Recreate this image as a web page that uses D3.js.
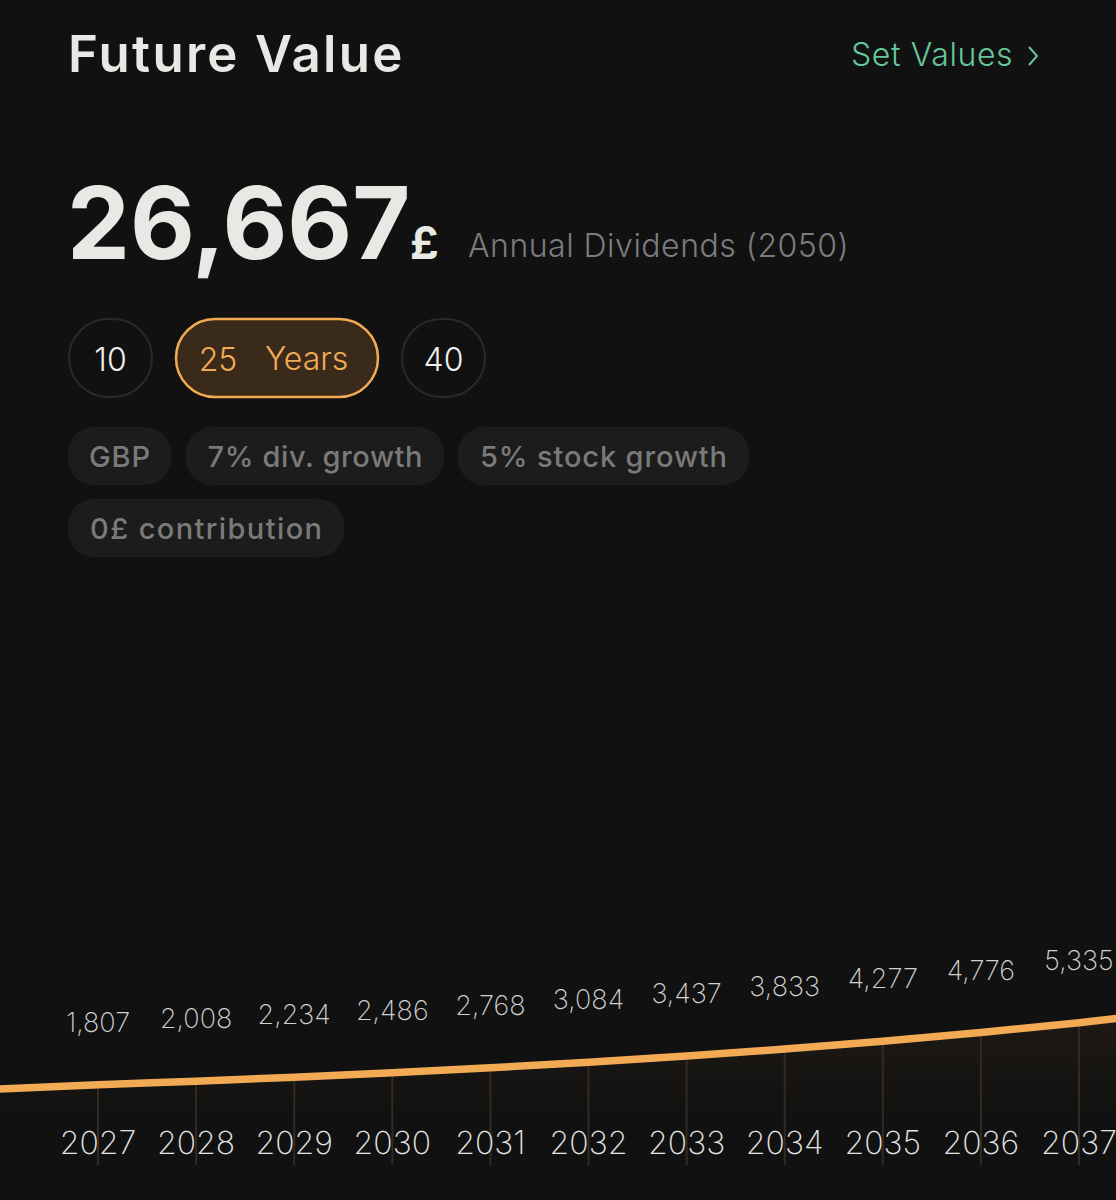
<!DOCTYPE html>
<html>
<head>
<meta charset="utf-8">
<script src="https://cdn.jsdelivr.net/npm/d3@7"></script>
<style>
  html, body { margin: 0; background: #111111; overflow: hidden; }
  svg { display: block; font-family: Inter, "Noto Sans", sans-serif; }
</style>
</head>
<body>
<div id="vis"></div>
<script>
// labelled years and their dividends
const years = [2027, 2028, 2029, 2030, 2031, 2032, 2033, 2034, 2035, 2036, 2037];
const dividends = [1807, 2008, 2234, 2486, 2768, 3084, 3437, 3833, 4277, 4776, 5335];
// the line runs off both edges of the screen, these two are estimated
const yearBefore = [2026, 1560];
const yearAfter = [2038, 5960];
const finalDividend = 26667;

const periods = ["10", "25", "40"];
const chipRows = [["GBP", "7% div. growth", "5% stock growth"], ["0£ contribution"]];

const width = 1116, height = 1200;
const orange = "#f2aa55";

const svg = d3.select("#vis").append("svg")
  .attr("width", width)
  .attr("height", height);

const defs = svg.append("defs");
const grad = defs.append("linearGradient")
  .attr("id", "under")
  .attr("x1", 0).attr("x2", 0).attr("y1", 0).attr("y2", 1);
grad.append("stop").attr("offset", "0%").attr("stop-color", orange).attr("stop-opacity", 0.06);
grad.append("stop").attr("offset", "100%").attr("stop-color", orange).attr("stop-opacity", 0);

//scales
const x = d3.scaleLinear().domain([2027, 2037]).range([98, 1079]);
const y = d3.scaleLinear().domain([0, finalDividend]).range([1116.5, 647.5]);

const points = years.map((d, i) => [d, dividends[i]]);
const linePoints = [yearBefore, ...points, yearAfter];

//area under the line
svg.append("path")
  .attr("d", d3.area()
    .x(d => x(d[0]))
    .y0(1118)
    .y1(d => y(d[1]))
    .curve(d3.curveMonotoneX)(linePoints))
  .attr("fill", "url(#under)");

//tick lines from the curve down past the year labels
svg.selectAll(".drop")
  .data(points)
  .join("line")
  .attr("class", "drop")
  .attr("x1", d => x(d[0]))
  .attr("x2", d => x(d[0]))
  .attr("y1", d => y(d[1]))
  .attr("y2", 1165)
  .attr("stroke", "#332a20")
  .attr("stroke-width", 2);

//main line
svg.append("path")
  .attr("d", d3.line()
    .x(d => x(d[0]))
    .y(d => y(d[1]))
    .curve(d3.curveMonotoneX)(linePoints))
  .attr("fill", "none")
  .attr("stroke", orange)
  .attr("stroke-width", 7.5);

//year axis
const xAxis = d3.axisBottom(x)
  .tickValues(years)
  .tickFormat(d3.format("d"))
  .tickSize(0)
  .tickPadding(0);

svg.append("g")
  .attr("transform", "translate(-0.5,1131)")
  .call(xAxis)
  .call(g => g.select(".domain").remove())
  .call(g => g.selectAll("text")
    .attr("font-family", "Inter")
    .attr("font-size", 32)
    .attr("font-weight", 200)
    .attr("fill", "#e4e4e4"));

//value labels
svg.selectAll(".val")
  .data(points)
  .join("text")
  .attr("class", "val")
  .attr("x", d => x(d[0]))
  .attr("y", d => y(d[1]) - 53)
  .attr("text-anchor", "middle")
  .attr("font-size", 27)
  .attr("font-weight", 200)
  .attr("fill", "#d2d2d2")
  .text(d => d3.format(",")(d[1]));

//header
svg.append("text")
  .attr("x", 68).attr("y", 72)
  .attr("font-size", 51)
  .attr("font-weight", 600)
  .attr("letter-spacing", 2.3)
  .attr("fill", "#e6e9e4")
  .text("Future Value");

svg.append("text")
  .attr("x", 851).attr("y", 66)
  .attr("font-size", 32)
  .attr("font-weight", 300)
  .attr("letter-spacing", 0.6)
  .attr("fill", "#66c79a")
  .text("Set Values");

svg.append("path")
  .attr("d", d3.line()([[1029, 47], [1037, 56], [1029, 65]]))
  .attr("fill", "none")
  .attr("stroke", "#66c79a")
  .attr("stroke-width", 2);

svg.append("text")
  .attr("x", 67).attr("y", 259)
  .attr("font-size", 100)
  .attr("font-weight", 700)
  .attr("fill", "#e6e9e4")
  .text(d3.format(",")(finalDividend));

svg.append("text")
  .attr("x", 410).attr("y", 259)
  .attr("font-size", 45)
  .attr("font-weight", 700)
  .attr("fill", "#e6e9e4")
  .text("£");

svg.append("text")
  .attr("x", 468).attr("y", 257)
  .attr("font-size", 32)
  .attr("font-weight", 300)
  .attr("letter-spacing", 0.5)
  .attr("fill", "#7c7c7c")
  .text("Annual Dividends (2050)");

//period buttons
const periodBoxes = [[68, 85], [175, 204], [401, 85]];
const periodG = svg.selectAll(".period")
  .data(periods)
  .join("g")
  .attr("class", "period");

periodG.append("rect")
  .attr("x", (d, i) => periodBoxes[i][0] + 1)
  .attr("y", 319)
  .attr("width", (d, i) => periodBoxes[i][1] - 2)
  .attr("height", 78)
  .attr("rx", 39)
  .attr("fill", d => d === "25" ? "#3a2a19" : "none")
  .attr("stroke", d => d === "25" ? orange : "#2a2a2a")
  .attr("stroke-width", d => d === "25" ? 2.5 : 2);

periodG.append("text")
  .attr("x", (d, i) => d === "25" ? 218 : periodBoxes[i][0] + periodBoxes[i][1] / 2)
  .attr("y", 371)
  .attr("text-anchor", "middle")
  .attr("font-size", 32)
  .attr("font-weight", 300)
  .attr("fill", d => d === "25" ? orange : "#eeeeee")
  .text(d => d);

svg.append("text")
  .attr("x", 265).attr("y", 370)
  .attr("font-size", 32)
  .attr("font-weight", 300)
  .attr("fill", orange)
  .text("Years");

//assumption chips, box x, box width, text width
const chipBoxes = [[[68, 103, 61], [186, 258, 215], [458, 291, 247]], [[68, 276, 232]]];
const chipTops = [427, 499];

chipRows.forEach((row, r) => {
  const chip = svg.selectAll(".chip" + r)
    .data(row)
    .join("g")
    .attr("class", "chip" + r);

  chip.append("rect")
    .attr("x", (d, i) => chipBoxes[r][i][0])
    .attr("y", chipTops[r])
    .attr("width", (d, i) => chipBoxes[r][i][1])
    .attr("height", 58)
    .attr("rx", 26)
    .attr("fill", "#1c1c1c");

  chip.append("text")
    .attr("x", (d, i) => chipBoxes[r][i][0] + chipBoxes[r][i][1] / 2)
    .attr("y", chipTops[r] + 40)
    .attr("text-anchor", "middle")
    .attr("font-size", 29)
    .attr("font-weight", 500)
    .attr("textLength", (d, i) => chipBoxes[r][i][2])
    .attr("fill", "#7a7a7a")
    .text(d => d);
});
</script>
</body>
</html>
